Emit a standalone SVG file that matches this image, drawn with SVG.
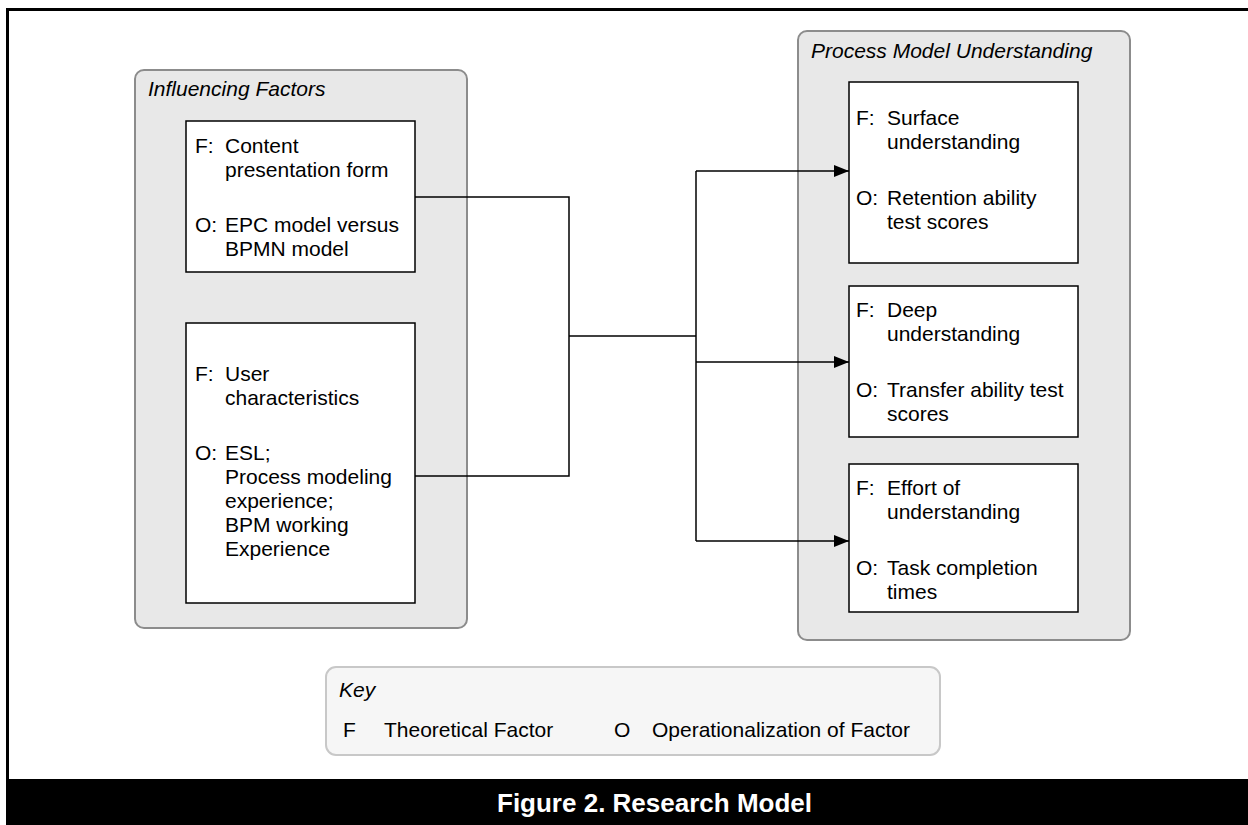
<svg xmlns="http://www.w3.org/2000/svg" width="1248" height="825" viewBox="0 0 1248 825">
<defs>
<style>
.grp{fill:#e8e8e8;stroke:#8c8c8c;stroke-width:2}
.box{fill:#fff;stroke:#000;stroke-width:1.5}
.t{font-family:"Liberation Sans",Arial,sans-serif;font-size:21px;fill:#000}
.ti{font-family:"Liberation Sans",Arial,sans-serif;font-size:21px;font-style:italic;fill:#000}
.con{fill:none;stroke:#000;stroke-width:1.5}
</style>
<marker id="arr" markerWidth="16" markerHeight="12" refX="15" refY="6" orient="auto" markerUnits="userSpaceOnUse">
<path d="M0,0 L15,6 L0,12 Z" fill="#000"/>
</marker>
</defs>
<rect width="1248" height="825" fill="#fff"/>
<path d="M7.5,779 V9.5 H1248" fill="none" stroke="#000" stroke-width="3"/>
<rect x="6" y="779" width="1242" height="46" fill="#000"/>
<text x="497" y="812" font-family="'Liberation Sans',Arial,sans-serif" font-size="26" font-weight="bold" fill="#fff">Figure 2. Research Model</text>

<g id="influencing-factors">
<rect class="grp" x="135" y="70" width="332" height="558" rx="9"/>
<text class="ti" x="148" y="96">Influencing Factors</text>
</g>
<g id="content-presentation">
<rect class="box" x="186" y="121" width="229" height="151"/>
<text class="t" x="195" y="153">F:</text><text class="t" x="225" y="153">Content</text>
<text class="t" x="225" y="177">presentation form</text>
<text class="t" x="195" y="232">O:</text><text class="t" x="225" y="232">EPC model versus</text>
<text class="t" x="225" y="256">BPMN model</text>
</g>
<g id="user-characteristics">
<rect class="box" x="186" y="323" width="229" height="280"/>
<text class="t" x="195" y="381">F:</text><text class="t" x="225" y="381">User</text>
<text class="t" x="225" y="405">characteristics</text>
<text class="t" x="195" y="460">O:</text><text class="t" x="225" y="460">ESL;</text>
<text class="t" x="225" y="484">Process modeling</text>
<text class="t" x="225" y="508">experience;</text>
<text class="t" x="225" y="532">BPM working</text>
<text class="t" x="225" y="556">Experience</text>
</g>

<g id="process-model-understanding">
<rect class="grp" x="798" y="31" width="332" height="609" rx="9"/>
<text class="ti" x="811" y="58">Process Model Understanding</text>
</g>
<g id="surface-understanding">
<rect class="box" x="849" y="82" width="229" height="181"/>
<text class="t" x="856" y="125">F:</text><text class="t" x="887" y="125">Surface</text>
<text class="t" x="887" y="149">understanding</text>
<text class="t" x="856" y="205">O:</text><text class="t" x="887" y="205">Retention ability</text>
<text class="t" x="887" y="229">test scores</text>
</g>
<g id="deep-understanding">
<rect class="box" x="849" y="286" width="229" height="151"/>
<text class="t" x="856" y="317">F:</text><text class="t" x="887" y="317">Deep</text>
<text class="t" x="887" y="341">understanding</text>
<text class="t" x="856" y="397">O:</text><text class="t" x="887" y="397">Transfer ability test</text>
<text class="t" x="887" y="421">scores</text>
</g>
<g id="effort-of-understanding">
<rect class="box" x="849" y="464" width="229" height="148"/>
<text class="t" x="856" y="495">F:</text><text class="t" x="887" y="495">Effort of</text>
<text class="t" x="887" y="519">understanding</text>
<text class="t" x="856" y="575">O:</text><text class="t" x="887" y="575">Task completion</text>
<text class="t" x="887" y="599">times</text>
</g>

<g id="connectors">
<path class="con" d="M415,197 H569 V476 H415"/>
<path class="con" d="M569,336 H696"/>
<path class="con" d="M696,171 V541"/>
<path class="con" d="M696,171 H849" marker-end="url(#arr)"/>
<path class="con" d="M696,362 H849" marker-end="url(#arr)"/>
<path class="con" d="M696,541 H849" marker-end="url(#arr)"/>
</g>

<g id="key">
<rect x="326" y="667" width="614" height="88" rx="10" fill="#f6f6f6" stroke="#c8c8c8" stroke-width="2"/>
<text class="ti" x="339" y="697">Key</text>
<text class="t" x="343" y="737">F</text>
<text class="t" x="384" y="737">Theoretical Factor</text>
<text class="t" x="614" y="737">O</text>
<text class="t" x="652" y="737">Operationalization of Factor</text>
</g>
</svg>
